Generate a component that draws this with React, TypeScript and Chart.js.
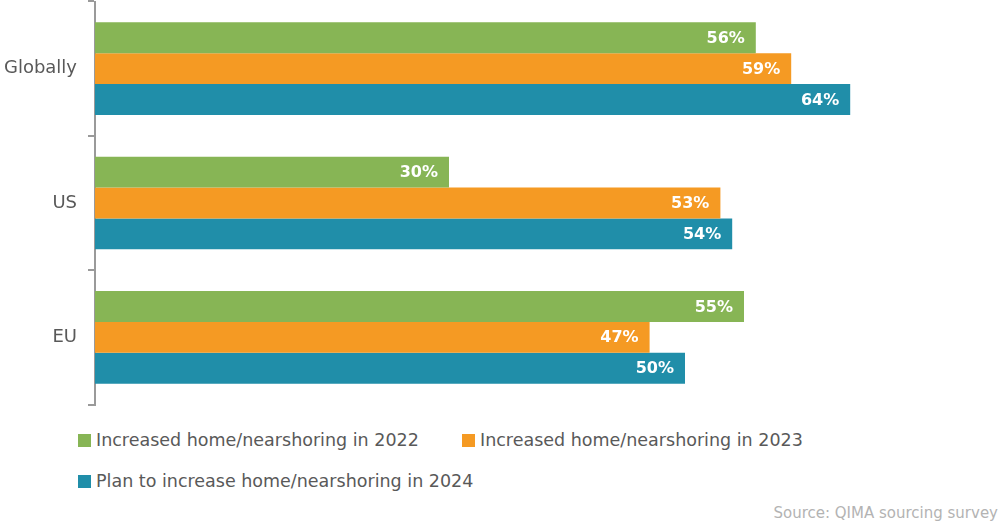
import React, { useEffect, useRef } from "react";
import { Chart, registerables } from "chart.js";

Chart.register(...registerables);

const categories = ["Globally", "US", "EU"];
const seriesNames = [
  "Increased home/nearshoring in 2022",
  "Increased home/nearshoring in 2023",
  "Plan to increase home/nearshoring in 2024",
];
const values2022 = [56, 30, 55];
const values2023 = [59, 53, 47];
const values2024 = [64, 54, 50];
const seriesColors = ["#87b555", "#f59a23", "#208ea9"];
const sourceText = "Source: QIMA sourcing survey";

const FONT = "'DejaVu Sans', sans-serif";

const valueLabels = {
  id: "valueLabels",
  afterDatasetsDraw(chart: any) {
    const ctx = chart.ctx;
    ctx.save();
    ctx.font = `bold 16px ${FONT}`;
    ctx.fillStyle = "#ffffff";
    ctx.textAlign = "right";
    ctx.textBaseline = "middle";
    chart.data.datasets.forEach((ds: any, di: number) => {
      const meta = chart.getDatasetMeta(di);
      meta.data.forEach((bar: any, i: number) => {
        ctx.fillText(`${ds.data[i]}%`, bar.x - 11, bar.y + 1);
      });
    });
    ctx.restore();
  },
};

export default function App() {
  const ref = useRef<HTMLCanvasElement | null>(null);

  useEffect(() => {
    if (!ref.current) return;
    const chart = new Chart(ref.current, {
      type: "bar",
      data: {
        labels: categories,
        datasets: [values2022, values2023, values2024].map((d, i) => ({
          label: seriesNames[i],
          data: d,
          backgroundColor: seriesColors[i],
          borderWidth: 0,
          categoryPercentage: 0.69,
          barPercentage: 1,
        })),
      },
      options: {
        indexAxis: "y",
        animation: false,
        responsive: true,
        maintainAspectRatio: false,
        layout: { padding: { top: 2, bottom: 6, right: 20, left: 0 } },
        plugins: {
          legend: { display: false },
          tooltip: { enabled: false },
        },
        scales: {
          x: { display: false, min: 0, max: 75 },
          y: {
            afterFit(scale: any) {
              scale.width = 95;
            },
            grid: {
              display: true,
              drawOnChartArea: false,
              drawTicks: true,
              tickLength: 7,
              offset: true,
              color: "#9a9a9a",
              lineWidth: 2,
            },
            border: { display: true, color: "#9a9a9a", width: 2 },
            ticks: {
              padding: 11,
              color: "#595959",
              font: { family: FONT, size: 18, lineHeight: "1px" },
            },
          },
        },
      },
      plugins: [valueLabels],
    } as any);
    return () => chart.destroy();
  }, []);

  const legendItem = (i: number, left: number, top: number) => (
    <div
      key={i}
      style={{
        position: "absolute",
        left,
        top,
        height: 20,
        display: "flex",
        alignItems: "center",
        whiteSpace: "nowrap",
      }}
    >
      <span
        style={{
          display: "inline-block",
          width: 13,
          height: 13,
          background: seriesColors[i],
          marginRight: 5,
        }}
      />
      <span style={{ fontFamily: FONT, fontSize: 17.5, color: "#595959", lineHeight: "20px" }}>
        {seriesNames[i]}
      </span>
    </div>
  );

  return (
    <div style={{ position: "absolute", left: 0, top: 0, width: 1000, height: 522, background: "#fff", overflow: "hidden" }}>
      <div style={{ position: "absolute", left: 0, top: -10, width: 1000, height: 426 }}>
        <canvas ref={ref} />
      </div>
      {legendItem(0, 78, 430)}
      {legendItem(1, 462, 430)}
      {legendItem(2, 78, 471)}
      <div
        style={{
          position: "absolute",
          right: 2,
          top: 503,
          fontFamily: FONT,
          fontSize: 15,
          color: "#b3b3b3",
          lineHeight: "20px",
          whiteSpace: "nowrap",
        }}
      >
        {sourceText}
      </div>
    </div>
  );
}
